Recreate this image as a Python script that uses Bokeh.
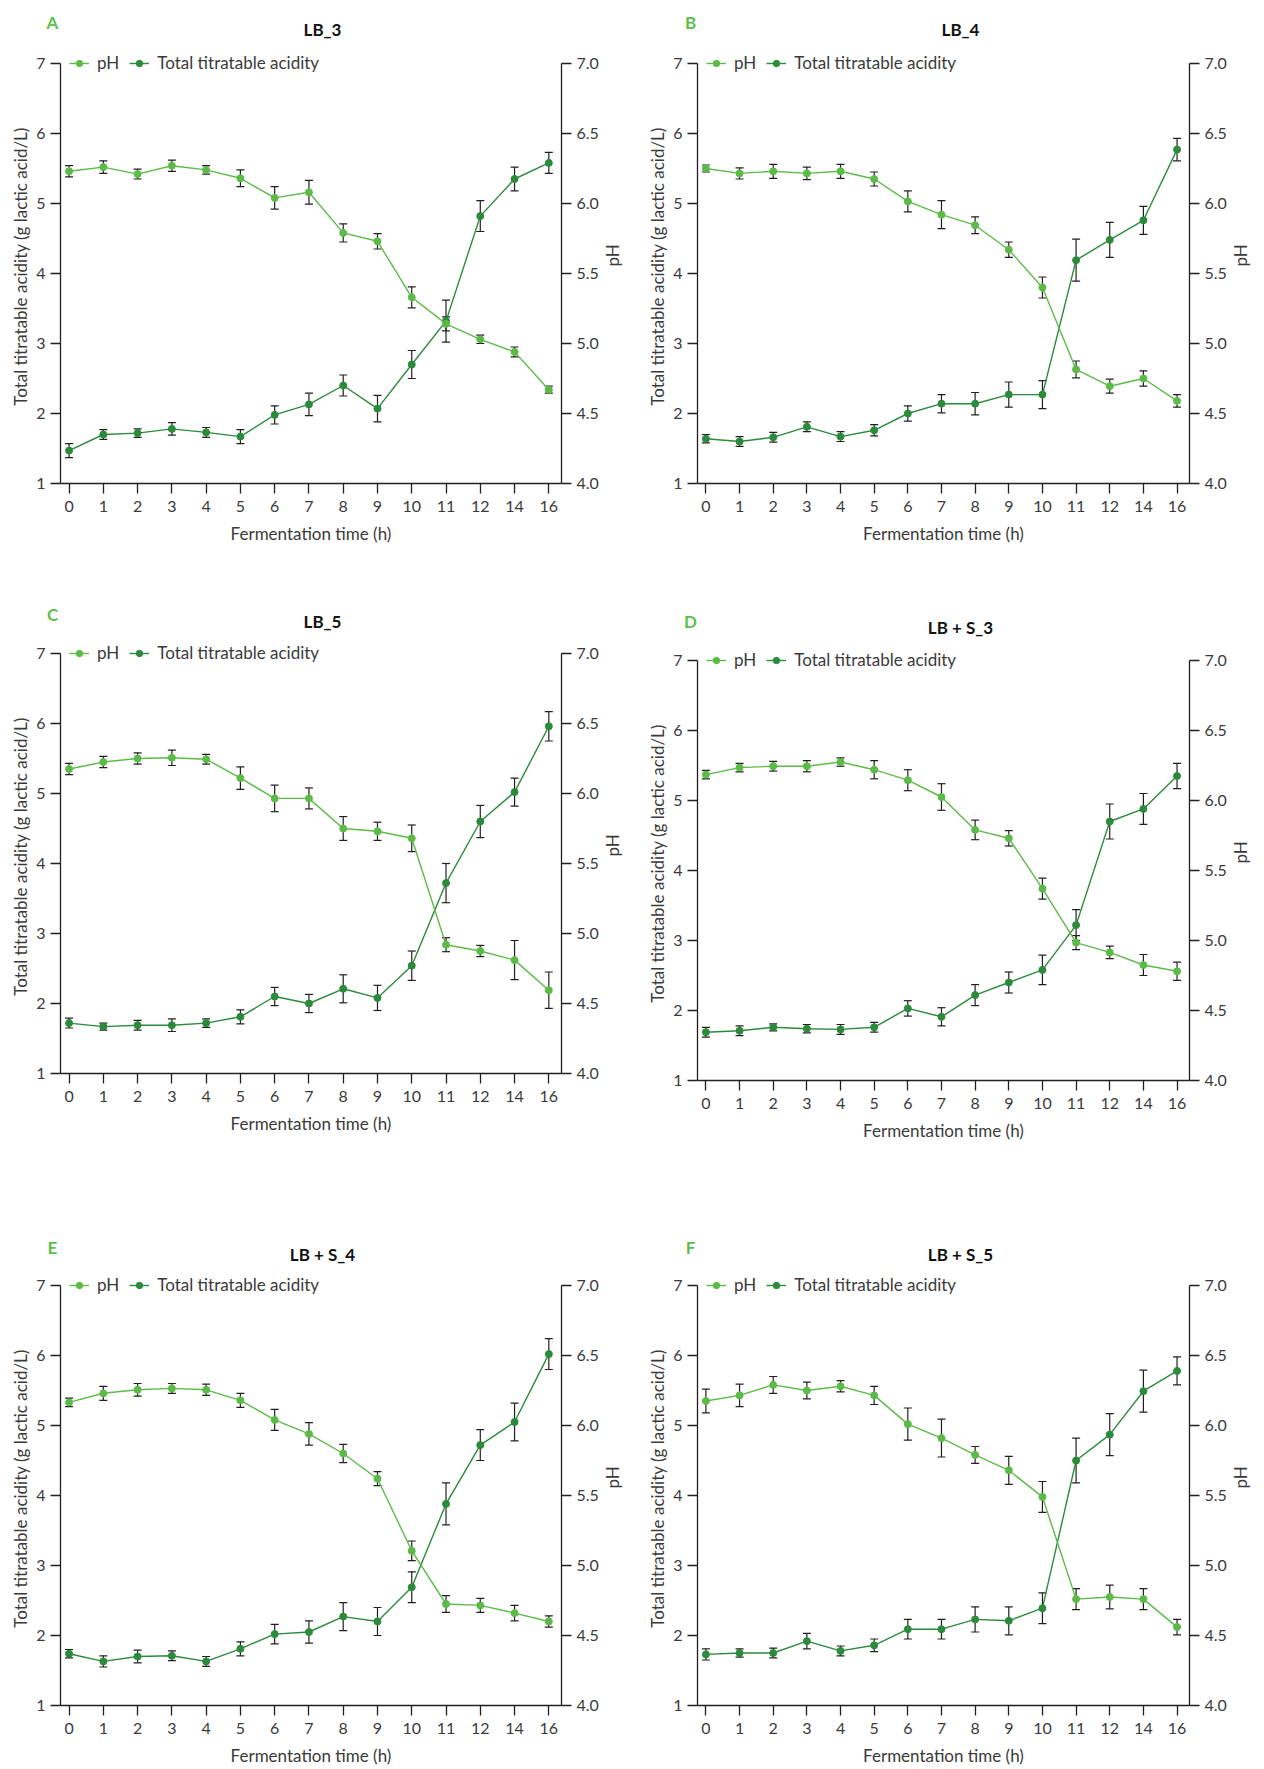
import math
from bokeh.plotting import figure
from bokeh.models import (Range1d, LinearAxis, FixedTicker, Whisker, TeeHead,
                          ColumnDataSource, Legend, LegendItem, Label)
from bokeh.layouts import row, column
from bokeh.embed import file_html
from bokeh.resources import INLINE

# ---------------- data ----------------
times = ["0", "1", "2", "3", "4", "5", "6", "7", "8", "9", "10", "11", "12", "14", "16"]
left_ticks = [1, 2, 3, 4, 5, 6, 7]
left_tick_labels = ["1", "2", "3", "4", "5", "6", "7"]
right_ticks = [4.0, 4.5, 5.0, 5.5, 6.0, 6.5, 7.0]
right_tick_labels = ["4.0", "4.5", "5.0", "5.5", "6.0", "6.5", "7.0"]

panel_letters = ["A", "B", "C", "D", "E", "F"]
panel_titles = ["LB_3", "LB_4", "LB_5", "LB + S_3", "LB + S_4", "LB + S_5"]

# LB_3
tta_lb3 = [1.47, 1.70, 1.72, 1.78, 1.73, 1.67, 1.98, 2.13, 2.40, 2.07, 2.70, 3.32, 4.82, 5.35, 5.58]
tta_lb3_sd = [0.10, 0.07, 0.06, 0.09, 0.07, 0.10, 0.13, 0.16, 0.15, 0.19, 0.20, 0.30, 0.22, 0.17, 0.15]
ph_lb3 = [6.23, 6.26, 6.21, 6.27, 6.24, 6.18, 6.04, 6.08, 5.79, 5.73, 5.33, 5.14, 5.03, 4.94, 4.67]
ph_lb3_sd = [0.04, 0.045, 0.035, 0.04, 0.03, 0.06, 0.08, 0.085, 0.065, 0.055, 0.075, 0.05, 0.03, 0.035, 0.025]

# LB_4
tta_lb4 = [1.64, 1.60, 1.66, 1.81, 1.67, 1.76, 2.00, 2.14, 2.14, 2.27, 2.27, 4.19, 4.48, 4.76, 5.77]
tta_lb4_sd = [0.06, 0.07, 0.07, 0.07, 0.07, 0.08, 0.11, 0.13, 0.16, 0.18, 0.20, 0.30, 0.25, 0.20, 0.16]
ph_lb4 = [6.25, 6.215, 6.23, 6.215, 6.23, 6.175, 6.015, 5.92, 5.845, 5.67, 5.40, 4.815, 4.695, 4.75, 4.59]
ph_lb4_sd = [0.025, 0.04, 0.05, 0.045, 0.05, 0.05, 0.075, 0.10, 0.06, 0.055, 0.075, 0.06, 0.05, 0.055, 0.045]

# LB_5
tta_lb5 = [1.72, 1.67, 1.69, 1.69, 1.72, 1.81, 2.10, 2.00, 2.21, 2.08, 2.54, 3.72, 4.60, 5.02, 5.96]
tta_lb5_sd = [0.07, 0.05, 0.07, 0.09, 0.06, 0.10, 0.13, 0.13, 0.20, 0.18, 0.21, 0.28, 0.23, 0.20, 0.21]
ph_lb5 = [6.175, 6.225, 6.25, 6.255, 6.245, 6.11, 5.965, 5.965, 5.75, 5.73, 5.68, 4.92, 4.875, 4.81, 4.595]
ph_lb5_sd = [0.04, 0.04, 0.04, 0.055, 0.035, 0.08, 0.095, 0.075, 0.085, 0.065, 0.095, 0.05, 0.04, 0.14, 0.13]

# LB + S_3
tta_lbs3 = [1.69, 1.71, 1.76, 1.74, 1.73, 1.76, 2.03, 1.91, 2.22, 2.40, 2.58, 3.22, 4.70, 4.88, 5.35]
tta_lbs3_sd = [0.07, 0.07, 0.05, 0.06, 0.07, 0.07, 0.11, 0.13, 0.15, 0.15, 0.21, 0.22, 0.25, 0.22, 0.18]
ph_lbs3 = [6.185, 6.235, 6.245, 6.245, 6.275, 6.22, 6.145, 6.025, 5.79, 5.73, 5.37, 4.985, 4.915, 4.825, 4.78]
ph_lbs3_sd = [0.03, 0.03, 0.035, 0.04, 0.03, 0.065, 0.075, 0.095, 0.07, 0.055, 0.075, 0.05, 0.045, 0.075, 0.065]

# LB + S_4
tta_lbs4 = [1.74, 1.63, 1.70, 1.71, 1.63, 1.81, 2.02, 2.05, 2.27, 2.20, 2.69, 3.88, 4.72, 5.05, 6.02]
tta_lbs4_sd = [0.06, 0.08, 0.09, 0.07, 0.07, 0.10, 0.14, 0.16, 0.20, 0.20, 0.22, 0.30, 0.22, 0.27, 0.22]
ph_lbs4 = [6.165, 6.23, 6.255, 6.265, 6.255, 6.18, 6.04, 5.94, 5.80, 5.62, 5.105, 4.725, 4.715, 4.66, 4.60]
ph_lbs4_sd = [0.03, 0.05, 0.045, 0.035, 0.04, 0.05, 0.075, 0.08, 0.065, 0.05, 0.07, 0.06, 0.05, 0.055, 0.04]

# LB + S_5
tta_lbs5 = [1.73, 1.75, 1.75, 1.92, 1.78, 1.86, 2.09, 2.09, 2.23, 2.21, 2.39, 4.50, 4.87, 5.49, 5.78]
tta_lbs5_sd = [0.08, 0.06, 0.07, 0.11, 0.07, 0.09, 0.14, 0.14, 0.18, 0.20, 0.22, 0.32, 0.30, 0.30, 0.20]
ph_lbs5 = [6.175, 6.215, 6.29, 6.25, 6.28, 6.215, 6.01, 5.91, 5.79, 5.68, 5.49, 4.76, 4.775, 4.76, 4.56]
ph_lbs5_sd = [0.085, 0.08, 0.06, 0.06, 0.04, 0.065, 0.115, 0.135, 0.06, 0.10, 0.11, 0.075, 0.085, 0.075, 0.055]

# ---------------- styling ----------------
FONT = "Lato"
PH_COLOR = "#5cbb48"
TTA_COLOR = "#2b8a3b"
ERR_COLOR = "#231f20"
AXIS_COLOR = "#231f20"
TEXT_COLOR = "#3a3a3a"
LETTER_COLOR = "#5cbf4c"
SPAN_H = 420          # pixel height between y=1 and y=7
TOP_PAD = 14          # extra frame pixels above the y=7 level (room for the legend)


def style_axis(ax):
    ax.axis_line_color = AXIS_COLOR
    ax.axis_line_width = 1.3
    ax.major_tick_line_color = AXIS_COLOR
    ax.major_tick_line_width = 1.3
    ax.major_tick_out = 10
    ax.major_tick_in = 0
    ax.minor_tick_out = 0
    ax.minor_tick_in = 0
    ax.minor_tick_line_color = None
    ax.major_label_text_font = FONT
    ax.major_label_text_font_size = "16px"
    ax.major_label_text_color = TEXT_COLOR
    ax.major_label_standoff = 5
    ax.axis_label_text_font = FONT
    ax.axis_label_text_font_size = "17px"
    ax.axis_label_text_font_style = "normal"
    ax.axis_label_text_color = TEXT_COLOR
    ax.axis_label_standoff = 6


def make_header(letter, title, width, height, letter_x, letter_top, title_x, title_top):
    h = figure(width=width, height=height, output_backend="svg", toolbar_location=None,
               x_axis_location=None, y_axis_location=None,
               x_range=Range1d(0, 1), y_range=Range1d(0, 1),
               min_border=0, min_border_left=0, min_border_right=0,
               min_border_top=0, min_border_bottom=0, frame_align=False)
    h.outline_line_color = None
    h.grid.visible = False
    h.add_layout(Label(x=letter_x, y=height - letter_top, x_units="screen", y_units="screen",
                       text=letter, text_align="center", text_baseline="middle",
                       text_font=FONT, text_font_size="17px", text_font_style="bold",
                       text_color=LETTER_COLOR))
    h.add_layout(Label(x=title_x, y=height - title_top, x_units="screen", y_units="screen",
                       text=title, text_align="center", text_baseline="middle",
                       text_font=FONT, text_font_size="17px", text_font_style="bold",
                       text_color="#111111"))
    return h


def make_panel(tta, tta_sd, ph, ph_sd, width, height, bl, br, bb):
    xs = list(range(len(times)))
    src = ColumnDataSource(dict(
        x=xs, tta=tta,
        tta_lo=[v - e for v, e in zip(tta, tta_sd)],
        tta_hi=[v + e for v, e in zip(tta, tta_sd)],
        ph=ph,
        ph_lo=[v - e for v, e in zip(ph, ph_sd)],
        ph_hi=[v + e for v, e in zip(ph, ph_sd)],
    ))
    l_lo, l_hi = left_ticks[0], left_ticks[-1]
    r_lo, r_hi = right_ticks[0], right_ticks[-1]
    l_pad = (l_hi - l_lo) * TOP_PAD / SPAN_H
    r_pad = (r_hi - r_lo) * TOP_PAD / SPAN_H
    p = figure(width=width, height=height, output_backend="svg", toolbar_location=None,
               x_range=Range1d(-0.25, 14.37), y_range=Range1d(l_lo, l_hi + l_pad),
               min_border_left=bl, min_border_right=br,
               min_border_top=0, min_border_bottom=bb, frame_align=False)
    p.extra_y_ranges = {"ph": Range1d(r_lo, r_hi + r_pad)}
    p.outline_line_color = None
    p.xgrid.visible = False
    p.ygrid.visible = False

    xa = p.xaxis[0]
    xa.ticker = FixedTicker(ticks=xs)
    xa.major_label_overrides = {i: t for i, t in enumerate(times)}
    xa.axis_label = "Fermentation time (h)"
    style_axis(xa)
    xa.major_label_standoff = 7
    xa.axis_label_standoff = 8

    ya = p.yaxis[0]
    ya.ticker = FixedTicker(ticks=left_ticks)
    ya.major_label_overrides = {v: s for v, s in zip(left_ticks, left_tick_labels)}
    ya.axis_label = "Total titratable acidity (g lactic acid/L)"
    ya.bounds = (l_lo, l_hi)
    style_axis(ya)
    ya.axis_label_standoff = 2

    ra = LinearAxis(y_range_name="ph", ticker=FixedTicker(ticks=right_ticks),
                    axis_label="pH")
    ra.major_label_overrides = {v: s for v, s in zip(right_ticks, right_tick_labels)}
    ra.bounds = (r_lo, r_hi)
    style_axis(ra)
    ra.axis_label_orientation = math.pi / 2
    ra.axis_label_standoff = 11
    p.add_layout(ra, "right")

    # error bars
    for lo, hi, rng in (("tta_lo", "tta_hi", "default"), ("ph_lo", "ph_hi", "ph")):
        w = Whisker(source=src, base="x", lower=lo, upper=hi, dimension="height",
                    y_range_name=rng, line_color=ERR_COLOR, line_width=1.2,
                    upper_head=TeeHead(size=8, line_color=ERR_COLOR, line_width=1.2),
                    lower_head=TeeHead(size=8, line_color=ERR_COLOR, line_width=1.2))
        p.add_layout(w)

    r_tl = p.line("x", "tta", source=src, line_color=TTA_COLOR, line_width=1.4)
    r_ts = p.scatter("x", "tta", source=src, size=7, fill_color=TTA_COLOR, line_color=TTA_COLOR)
    r_pl = p.line("x", "ph", source=src, y_range_name="ph", line_color=PH_COLOR, line_width=1.4)
    r_ps = p.scatter("x", "ph", source=src, y_range_name="ph", size=7,
                     fill_color=PH_COLOR, line_color=PH_COLOR)

    legend = Legend(items=[LegendItem(label="pH", renderers=[r_pl, r_ps]),
                           LegendItem(label="Total titratable acidity", renderers=[r_tl, r_ts])],
                    location=(9, SPAN_H - 10), orientation="horizontal",
                    border_line_color=None, background_fill_alpha=0,
                    padding=0, margin=0, spacing=10, label_standoff=8,
                    glyph_width=20, glyph_height=16, label_height=20,
                    label_text_font=FONT, label_text_font_size="17px",
                    label_text_color=TEXT_COLOR)
    p.add_layout(legend)
    return p


LW, RW = 636, 628
# left column: A, C, E
hA = make_header(panel_letters[0], panel_titles[0], LW, 49, 52, 22, 322, 29)
pA = make_panel(tta_lb3, tta_lb3_sd, ph_lb3, ph_lb3_sd, LW, 531, 60, 69, 97)
hC = make_header(panel_letters[2], panel_titles[2], LW, 59, 52, 34, 322, 41)
pC = make_panel(tta_lb5, tta_lb5_sd, ph_lb5, ph_lb5_sd, LW, 561, 60, 69, 127)
hE = make_header(panel_letters[4], panel_titles[4], LW, 71, 52, 47, 322, 54)
pE = make_panel(tta_lbs4, tta_lbs4_sd, ph_lbs4, ph_lbs4_sd, LW, 497, 60, 69, 63)
# right column: B, D, F
hB = make_header(panel_letters[1], panel_titles[1], RW, 49, 54, 22, 324, 29)
pB = make_panel(tta_lb4, tta_lb4_sd, ph_lb4, ph_lb4_sd, RW, 538, 61, 66, 104)
hD = make_header(panel_letters[3], panel_titles[3], RW, 59, 54, 34, 324, 40)
pD = make_panel(tta_lbs3, tta_lbs3_sd, ph_lbs3, ph_lbs3_sd, RW, 554, 61, 66, 120)
hF = make_header(panel_letters[5], panel_titles[5], RW, 71, 54, 47, 324, 54)
pF = make_panel(tta_lbs5, tta_lbs5_sd, ph_lbs5, ph_lbs5_sd, RW, 497, 61, 66, 63)

layout = row(column(hA, pA, hC, pC, hE, pE, spacing=0),
             column(hB, pB, hD, pD, hF, pF, spacing=0), spacing=0)

open("out.html", "w").write(file_html(layout, INLINE))
